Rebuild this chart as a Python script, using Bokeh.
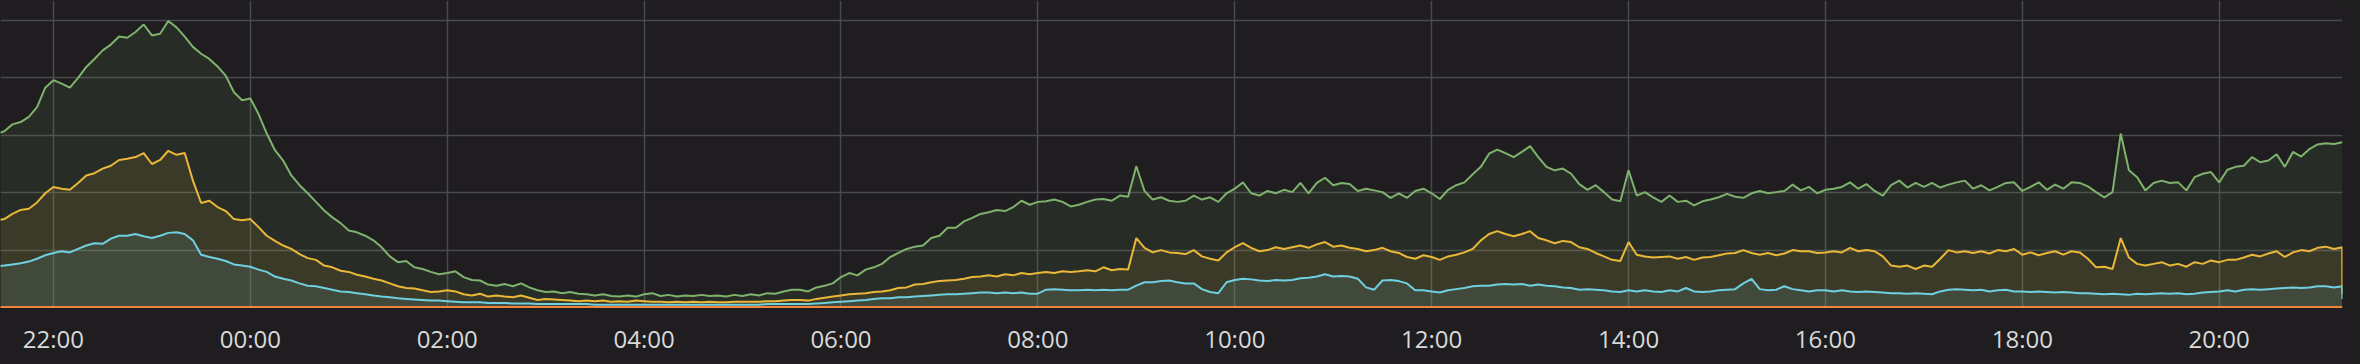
import pandas as pd
from bokeh.plotting import figure
from bokeh.models import Range1d, FixedTicker, DatetimeTickFormatter
from bokeh.embed import file_html
from bokeh.resources import INLINE

# ---------------- data ----------------
series_start = "2018-03-01 21:25"      # first sample, then every 5 minutes
step = "5min"
last_time = "2018-03-02 21:15:05"      # final sample at the right edge

green = [302,
         307, 319, 323, 332, 349, 383, 396, 390, 383, 400, 419, 433, 448, 458, 472, 470, 480, 493, 474, 477,
         499, 488, 472, 454, 442, 433, 420, 404, 375, 361, 364, 337, 303, 274, 256, 230, 213, 199, 184, 169,
         157, 147, 134, 131, 125, 117, 105, 89, 79,
         81, 70, 67, 62, 58, 60, 63, 53, 48, 47, 40, 38, 41, 37, 42, 35, 30, 27, 28, 25, 27, 24, 23, 21, 23, 20,
         19, 21, 19, 23, 25, 20, 22, 19, 21, 20, 22, 20, 21, 19, 22, 20, 23, 21, 25, 24, 28, 31,
         31, 28, 35, 38, 42, 53, 60, 56, 66, 70, 76, 88, 95, 102, 106, 108, 121, 125, 139, 139, 150, 156, 163,
         166, 170, 168, 175, 186, 179, 184, 185, 188, 184, 176, 179, 184, 188, 189, 186, 195, 193, 246, 203, 188,
         192, 186, 184, 186,
         195, 188, 192, 184, 199, 207, 218, 199, 195, 203, 199, 205, 201, 217, 199, 217, 226, 213, 217, 215, 203,
         207, 204, 201, 191, 199, 191, 203, 207, 199, 189, 205, 213, 218, 232, 245, 268, 275, 269, 262, 271, 281,
         262, 245, 239, 242, 233, 215,
         205, 213, 201, 188, 185, 239, 195, 201, 192, 184, 195, 184, 186, 178, 185, 188, 192, 198, 193, 191, 199,
         203, 199, 201, 203, 214, 204, 210, 199, 205, 207, 210, 218, 207, 215, 203, 195, 213, 221, 209, 217, 210,
         217, 209, 214, 218, 221,
         207, 213, 204, 210, 217, 218, 203, 210, 218, 205, 214, 207, 218, 217, 211, 201, 192, 201, 303, 239, 227,
         204, 217, 221, 217, 218, 204, 227, 233, 236, 218, 240, 245, 247, 262, 253, 256, 267, 245, 271, 263, 276,
         284, 286, 285, 288,
         288]

yellow = [152,
          154, 163, 170, 172, 183, 199, 210, 207, 205, 217, 230, 234, 242, 247, 257, 259, 262, 269, 250, 257,
          273, 266, 269, 221, 182, 186, 175, 168, 154, 152, 154, 140, 125, 116, 108, 102, 93, 86, 83, 73,
          70, 64, 62, 57, 54, 50, 47, 42, 37,
          34, 33, 30, 27, 28, 30, 28, 23, 21, 24, 19, 21, 19, 18, 21, 17, 13, 15, 14, 13, 12, 11, 12, 11, 12, 10,
          11, 10, 12, 11, 10, 10, 9, 10, 9, 10, 9, 10, 9, 9, 10, 10, 10, 10, 11, 11, 12, 13,
          13, 12, 15, 17, 19, 21, 23, 24, 25, 27, 28, 30, 34, 35, 40, 41, 44, 46, 47, 48, 50, 53, 54, 56, 54, 58,
          56, 60, 58, 60, 62, 60, 63, 62, 63, 65, 63, 70, 65, 67, 66, 121, 104, 96, 100, 96, 95, 93,
          100, 89, 85, 82, 96, 105, 112, 104, 98, 100, 105, 102, 105, 108, 104, 110, 114, 106, 108, 104, 102, 98,
          100, 104, 98, 95, 88, 85, 91, 88, 83, 89, 92, 96, 102, 117, 128, 133, 128, 124, 128, 133, 121, 117,
          112, 116, 114, 105,
          102, 95, 89, 83, 81, 114, 92, 89, 87, 88, 89, 85, 88, 83, 87, 88, 91, 94, 95, 100, 95, 92, 95, 91, 94,
          100, 98, 98, 95, 96, 98, 96, 104, 98, 100, 98, 89, 73, 71, 73, 67, 73, 71, 85, 100, 96, 98,
          95, 98, 94, 100, 98, 102, 92, 96, 91, 95, 98, 92, 98, 96, 85, 70, 71, 67, 121, 87, 76, 73, 76, 79, 73,
          76, 71, 79, 76, 82, 79, 83, 83, 87, 92, 89, 94, 98, 88, 96, 100, 98, 104, 106, 102, 105,
          24]

cyan = [72,
        73, 75, 77, 80, 85, 91, 95, 98, 96, 102, 108, 112, 111, 120, 125, 125, 128, 124, 121, 125, 130, 131, 128,
        117, 92, 88, 85, 81, 75, 73, 71, 66, 62, 54, 50, 47, 42, 38, 37, 34, 31, 28, 27, 25, 23, 21, 19, 18, 16,
        15, 14, 13, 12, 12, 11, 10, 9, 9, 9, 8, 8, 8, 7, 7, 7, 6, 6, 6, 6, 6, 6, 6, 5, 5, 5, 5, 5, 5, 5, 5, 5,
        5, 5, 5, 5, 5, 5, 5, 5, 5, 5, 5, 5, 6, 6, 6, 6,
        6, 6, 7, 8, 9, 10, 11, 12, 13, 15, 16, 16, 18, 18, 19, 20, 21, 22, 23, 23, 24, 25, 26, 26, 25, 26, 25,
        26, 24, 24, 31, 32, 31, 30, 30, 31, 30, 31, 30, 31, 31, 38, 44, 44, 46, 47, 44, 42,
        42, 32, 27, 25, 44, 48, 50, 49, 47, 46, 48, 47, 48, 51, 52, 54, 58, 54, 55, 54, 50, 35, 31, 47, 48, 46,
        42, 30, 30, 28, 26, 30, 32, 34, 37, 38, 38, 40, 41, 40, 41, 38, 40, 38, 37, 35, 34, 31,
        32, 31, 30, 28, 27, 30, 28, 30, 28, 27, 30, 28, 34, 28, 27, 28, 30, 31, 32, 42, 50, 32, 30, 31, 37, 32,
        30, 28, 30, 30, 28, 30, 28, 27, 28, 27, 26, 25, 25, 24, 25, 24, 23, 28, 31, 32, 31,
        30, 31, 28, 30, 31, 28, 28, 27, 28, 27, 26, 27, 26, 25, 25, 24, 23, 24, 23, 22, 24, 23, 24, 25, 24, 25,
        23, 24, 26, 27, 28, 30, 28, 31, 32, 31, 32, 33, 34, 35, 34, 35, 37, 37, 35, 37,
        15]

orange_times = ["2018-03-01 21:25", "2018-03-02 03:00", "2018-03-02 09:00", "2018-03-02 15:00", "2018-03-02 21:15:05"]
orange = [1, 1, 1, 1, 1]

tick_start = "2018-03-01 22:00"
tick_labels = ["22:00", "00:00", "02:00", "04:00", "06:00", "08:00",
               "10:00", "12:00", "14:00", "16:00", "18:00", "20:00"]
y_grid_values = [100, 200, 300, 400, 500]

# ---------------- build ----------------
times = list(pd.date_range(series_start, periods=len(green) - 1, freq=step)) + [pd.Timestamp(last_time)]
o_times = [pd.Timestamp(t) for t in orange_times]
tick_times = pd.date_range(tick_start, periods=len(tick_labels), freq="2h")
tick_ms = [t.value / 1e6 for t in tick_times]

BG = "#1f1d1f"
p = figure(width=2360, height=364, output_backend="svg", toolbar_location=None,
           x_axis_type="datetime",
           x_range=Range1d(pd.Timestamp("2018-03-01 21:27:43"), pd.Timestamp("2018-03-02 21:15:10")),
           y_range=Range1d(-1.74, 534.8),
           min_border_left=0, min_border_right=18, min_border_top=0, min_border_bottom=56)
p.background_fill_color = BG
p.border_fill_color = BG
p.outline_line_color = None

colors = {"green": "#7eb26d", "yellow": "#eab839", "cyan": "#6ed0e0", "orange": "#ef843c"}
series = [("green", times, green), ("yellow", times, yellow), ("cyan", times, cyan), ("orange", o_times, orange)]
for name, xs, ys in series:
    p.varea(x=xs, y1=[0] * len(ys), y2=ys, fill_color=colors[name], fill_alpha=0.1)
for name, xs, ys in series:
    p.line(x=xs, y=ys, line_color=colors[name], line_width=2)

p.yaxis.visible = False
p.ygrid.ticker = FixedTicker(ticks=y_grid_values)
p.xaxis.ticker = FixedTicker(ticks=tick_ms)
p.xaxis.formatter = DatetimeTickFormatter(hours="%H:%M", days="%H:%M", hourmin="%H:%M",
                                          minutes="%H:%M", months="%H:%M", years="%H:%M")
p.xaxis.major_label_overrides = {ms: lbl for ms, lbl in zip(tick_ms, tick_labels)}
p.xaxis.axis_line_color = None
p.xaxis.major_tick_line_color = None
p.xaxis.minor_tick_line_color = None
p.xaxis.major_label_standoff = 7
p.xaxis.major_label_text_font = "Open Sans"
p.xaxis.major_label_text_font_size = "24px"
p.xaxis.major_label_text_color = "#d8d9da"

for g in (p.xgrid, p.ygrid):
    g.grid_line_color = "#4a494b"
    g.grid_line_width = 1.5

html = file_html(p, INLINE)
html = html.replace("<head>", "<head><style>body{background:%s;}</style>" % BG, 1)
open("out.html", "w").write(html)
